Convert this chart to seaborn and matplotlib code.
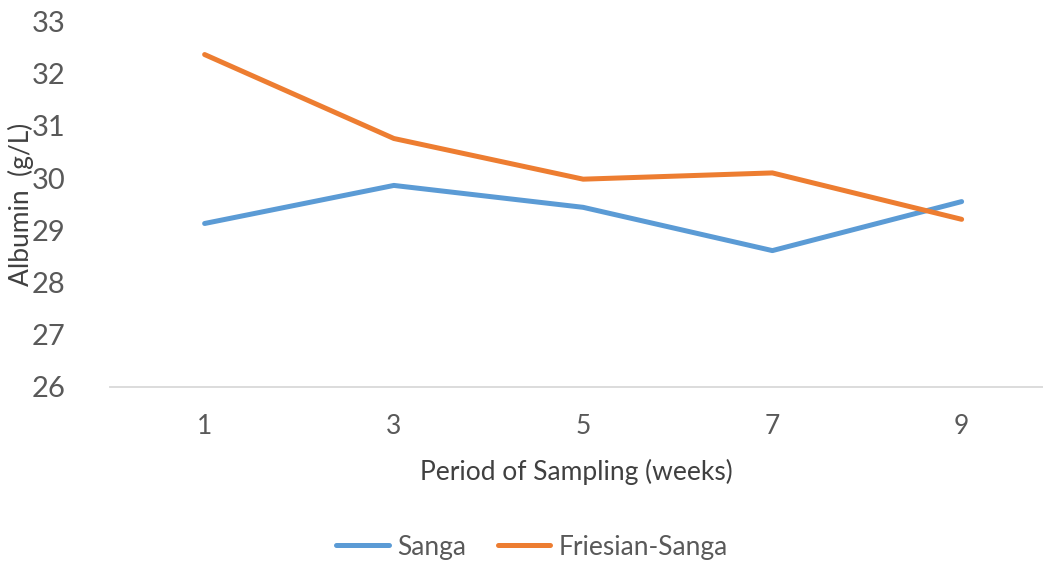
import pandas as pd
import matplotlib.pyplot as plt
import seaborn as sns

# values
weeks = ["1", "3", "5", "7", "9"]
sanga = [29.13, 29.86, 29.44, 28.61, 29.55]
friesian_sanga = [32.37, 30.76, 29.98, 30.10, 29.21]

data = pd.DataFrame({
    "week": weeks * 2,
    "albumin": sanga + friesian_sanga,
    "breed": ["Sanga"] * len(weeks) + ["Friesian-Sanga"] * len(weeks),
})

sns.set_style("white")
plt.rcParams["font.family"] = ["Lato", "DejaVu Sans"]

fig = plt.figure(figsize=(10.43, 5.62), dpi=100)
ax = fig.add_axes([110 / 1043, (562 - 386.7) / 562, (1043 - 110) / 1043, (386.7 - 21.7) / 562])

palette = {"Sanga": "#5B9BD5", "Friesian-Sanga": "#ED7D31"}
sns.lineplot(data=data, x="week", y="albumin", hue="breed", palette=palette,
             linewidth=3.6, sort=False, ax=ax, legend=True)
for line in ax.lines:
    line.set_solid_capstyle("round")
    line.set_solid_joinstyle("round")

ax.set_ylim(26, 33)
ax.set_xlim(-0.5, 4.43)
ax.set_yticks(range(26, 34))

for s in ["top", "right", "left"]:
    ax.spines[s].set_visible(False)
ax.spines["bottom"].set_color("#D9D9D9")
ax.spines["bottom"].set_linewidth(1.3)

ax.tick_params(axis="y", length=0, pad=32, labelsize=21, labelcolor="#595959")
ax.tick_params(axis="x", length=0, pad=20, labelsize=19, labelcolor="#595959")

ax.set_xlabel("Period of Sampling (weeks)", fontsize=19, color="#404040", labelpad=14)
ax.set_ylabel("Albumin  (g/L)", fontsize=19, color="#404040")
ax.yaxis.set_label_coords(-76 / 933, 0.5)

handles, labels = ax.get_legend_handles_labels()
for h in handles:
    h.set_solid_capstyle("round")
ax.legend(handles, labels, loc="center", bbox_to_anchor=(532 / 1043, 1 - 547 / 562),
          bbox_transform=fig.transFigure, ncol=2, frameon=False, fontsize=19,
          handlelength=2.0, columnspacing=1.2, handletextpad=0.3,
          labelcolor="#595959")

fig.savefig("out.png", dpi=100)
